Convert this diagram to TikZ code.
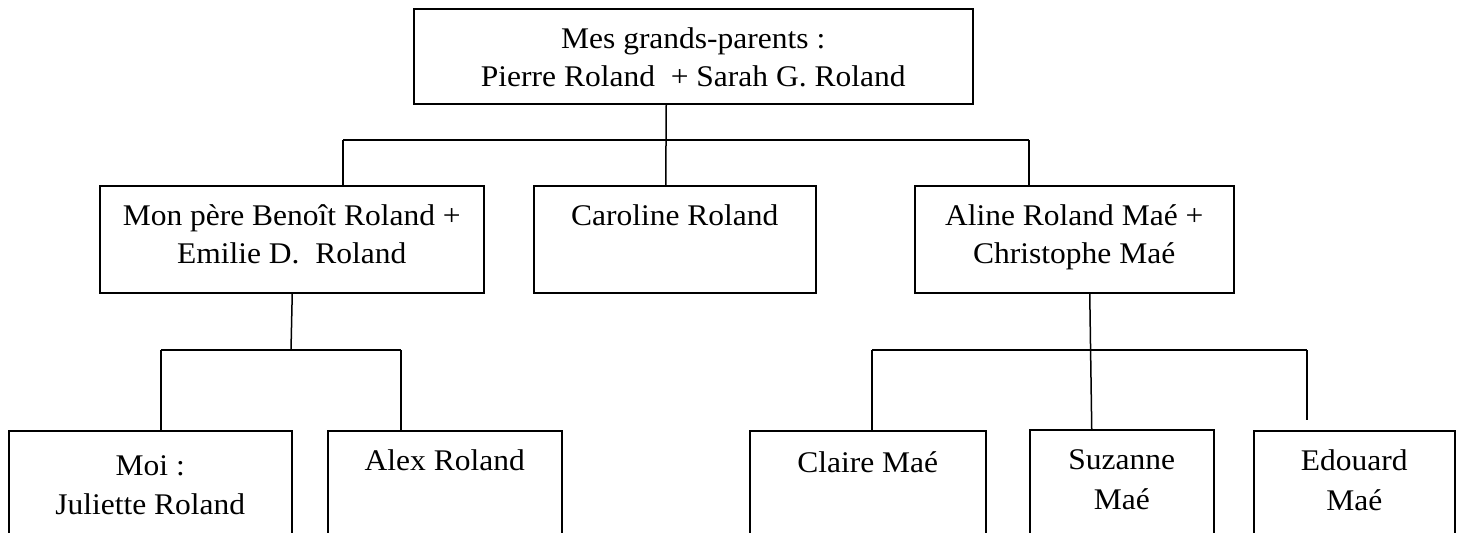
\documentclass[tikz,border=0pt]{standalone}
\usepackage{fontspec}
\setmainfont{Liberation Serif}[FakeStretch=1.05]
\usetikzlibrary{calc}
\begin{document}
\begin{tikzpicture}[x=1pt,y=-1pt,
  box/.style={draw=black,line width=1.5pt,rectangle,inner sep=0pt,anchor=north west},
  txt/.style={font=\fontsize{30}{38}\selectfont,inner sep=0pt,anchor=base,text=black},
  conn/.style={draw=black,line width=1.5pt}]
\useasboundingbox (0,0) rectangle (1460,533);
\clip (0,0) rectangle (1460,533);
% boxes
\node[box,minimum width=559pt,minimum height=95pt] (top) at (413,8) {};
\node[box,minimum width=384pt,minimum height=107pt] (pere) at (99,185) {};
\node[box,minimum width=282pt,minimum height=107pt] (caro) at (533,185) {};
\node[box,minimum width=319pt,minimum height=107pt] (aline) at (914,185) {};
\node[box,minimum width=283pt,minimum height=140pt] (moi) at (8,430) {};
\node[box,minimum width=234pt,minimum height=140pt] (alex) at (327,430) {};
\node[box,minimum width=236pt,minimum height=140pt] (claire) at (749,430) {};
\node[box,minimum width=184pt,minimum height=140pt] (suz) at (1029,429) {};
\node[box,minimum width=201pt,minimum height=140pt] (edo) at (1253,430) {};
% texts
\node[txt] (topa) at ($(top.north)+(0,40)$) {Mes grands-parents :};
\node[txt] (topb) at ($(top.north)+(0,78)$) {Pierre Roland\ \ + Sarah G. Roland};
\node[txt] (perea) at ($(pere.north)+(0,40)$) {Mon père Benoît Roland +};
\node[txt] (pereb) at ($(pere.north)+(0,78)$) {Emilie D.\ \ Roland};
\node[txt] (caroa) at ($(caro.north)+(0,40)$) {Caroline Roland};
\node[txt] (alinea) at ($(aline.north)+(0,40)$) {Aline Roland Maé +};
\node[txt] (alineb) at ($(aline.north)+(0,78)$) {Christophe Maé};
\node[txt] (moia) at ($(moi.north)+(0,45)$) {Moi :};
\node[txt] (moib) at ($(moi.north)+(0,84)$) {Juliette Roland};
\node[txt] (alexa) at ($(alex.north)+(0,40)$) {Alex Roland};
\node[txt] (clairea) at ($(claire.north)+(0,42)$) {Claire Maé};
\node[txt] (suza) at ($(suz.north)+(0,40)$) {Suzanne};
\node[txt] (suzb) at ($(suz.north)+(0,80)$) {Maé};
\node[txt] (edoa) at ($(edo.north)+(0,40)$) {Edouard};
\node[txt] (edob) at ($(edo.north)+(0,80)$) {Maé};
% connector coordinates
\coordinate (j1) at ([xshift=-27pt]top.south |- 0,140);
\coordinate (jl) at (pere.north -| 343,0);
\coordinate (jr) at (aline.north -| 1029,0);
\coordinate (h1l) at (343,140);
\coordinate (h1r) at (1029,140);
\coordinate (h2l) at (161,350);
\coordinate (h2r) at (401,350);
\coordinate (h3l) at (872,350);
\coordinate (h3r) at (1307,350);
\coordinate (edoend) at (1307,420);
% connectors
\draw[conn] ([xshift=-27pt]top.south) -- ([xshift=-9pt]caro.north);
\draw[conn] (h1l) -- (h1r);
\draw[conn] (h1l) -- (jl);
\draw[conn] (h1r) -- (jr);
\draw[conn] ([xshift=0.5pt]pere.south) -- (291,350);
\draw[conn] (h2l) -- (h2r);
\draw[conn] (h2l) -- (h2l |- moi.north);
\draw[conn] (h2r) -- (h2r |- alex.north);
\draw[conn] ([xshift=15.5pt]aline.south) -- ([xshift=-30pt]suz.north);
\draw[conn] (h3l) -- (h3r);
\draw[conn] (h3l) -- (h3l |- claire.north);
\draw[conn] (h3r) -- (edoend);
\end{tikzpicture}
\end{document}
